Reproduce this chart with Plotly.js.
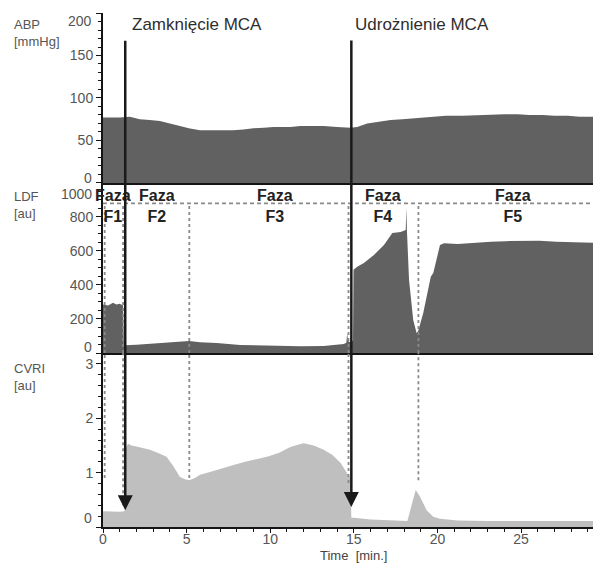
<!DOCTYPE html>
<html>
<head>
<meta charset="utf-8">
<script src="https://cdn.plot.ly/plotly-3.0.1.min.js"></script>
<style>
  html, body { margin: 0; padding: 0; background: #fff; }
  #chart { width: 593px; height: 563px; }
</style>
</head>
<body>
<div id="chart"></div>
<script>
// ---- Data ----
const timeRange = [0, 29.3];

// ABP [mmHg]
const abpTime = [0, 0.5, 1.0, 1.6, 2.2, 2.8, 3.4, 4.0, 4.6, 5.2, 5.8, 6.5, 7.2, 7.8, 8.4, 9.0, 9.6, 10.2, 10.8, 11.2, 11.8, 12.5, 13.2, 14.0, 14.8, 15.2, 15.8, 16.5, 17.2, 17.9, 18.6, 19.6, 20.5, 21.5, 22.5, 23.3, 24.0, 24.8, 25.5, 26.3, 27.0, 27.8, 28.5, 29.3];
const abpValues = [77, 77, 77, 78, 75, 74, 73, 70, 67, 64, 62, 62, 62, 62, 63, 64.5, 65, 66, 66, 66, 67, 67, 67, 66, 65, 66, 70, 72, 74, 75, 76, 78, 79, 79, 80, 81, 81, 81, 80, 80, 79, 79, 78, 78];

// LDF [au]
const ldfTime = [0, 0.3, 0.6, 0.8, 1.0, 1.2, 1.25, 1.3, 2.0, 2.6, 3.5, 4.6, 5.15, 5.8, 6.8, 8.2, 9.8, 11.2, 11.8, 13.2, 14.0, 14.4, 14.55, 14.6, 14.65, 14.75, 14.95, 14.98, 15.2, 15.6, 16.2, 16.8, 17.3, 17.8, 18.1, 18.14, 18.17, 18.2, 18.3, 18.55, 18.75, 18.85, 19.15, 19.6, 19.75, 20.15, 20.4, 21.2, 22.2, 23.2, 24.1, 25.1, 26.1, 27.1, 28.1, 29.3];
const ldfValues = [285, 280, 295, 285, 290, 280, 40, 45, 48, 53, 58, 66, 71, 64, 59, 47, 43, 38, 40, 41, 48, 53, 60, 118, 70, 65, 72, 490, 508, 530, 576, 635, 706, 712, 724, 855, 730, 640, 429, 194, 118, 130, 235, 449, 470, 635, 645, 641, 650, 655, 658, 659, 660, 655, 652, 649];

// CVRI [au]
const cvriTime = [0, 0.5, 1.0, 1.3, 1.35, 1.5, 1.7, 2.0, 2.4, 2.8, 3.3, 3.8, 4.2, 4.6, 4.9, 5.15, 5.5, 5.8, 6.5, 7.2, 7.8, 8.5, 9.2, 9.8, 10.5, 11.2, 11.6, 12.0, 12.6, 13.2, 13.7, 14.2, 14.6, 14.8, 14.85, 15.0, 16.0, 17.0, 18.2, 18.45, 18.7, 18.95, 19.35, 19.75, 20.15, 21.2, 23, 26, 29.3];
const cvriValues = [0.29, 0.28, 0.28, 0.29, 1.45, 1.53, 1.50, 1.48, 1.45, 1.42, 1.36, 1.29, 1.12, 0.92, 0.88, 0.86, 0.90, 0.96, 1.02, 1.09, 1.14, 1.20, 1.25, 1.29, 1.36, 1.47, 1.51, 1.54, 1.50, 1.42, 1.33, 1.18, 0.99, 0.90, 0.17, 0.17, 0.14, 0.12, 0.11, 0.40, 0.68, 0.56, 0.31, 0.19, 0.15, 0.12, 0.11, 0.11, 0.11];

// Phases
const phaseBoundaries = [0.1, 1.2, 5.16, 14.68, 18.86];
const phaseCvriEnds = [0.90, 0.40, 0.90, 0.81, 0.86];
const phaseLevel = 880;
const phaseNames = ['F1', 'F2', 'F3', 'F4', 'F5'];
const phaseLabelTime = [0.62, 3.25, 10.3, 16.75, 24.5];

// Events (arrows)
const eventNames = ['Zamknięcie MCA', 'Udrożnienie MCA'];
const eventTime = [1.33, 14.85];
const eventTipCvri = [0.31, 0.37];
const eventLabelTime = [5.65, 19.1];

// Axis ticks
const abpTicks = [0, 50, 100, 150, 200];
const ldfTicks = [0, 200, 400, 600, 800, 1000];
const cvriTicks = [0, 1, 2, 3];
const timeTicks = [0, 5, 10, 15, 20, 25];

// ---- Figure ----
const FONT = 'Liberation Sans, Arial, Helvetica, sans-serif';
const darkFill = '#616161';
const lightFill = '#bfbfbf';
const tickGray = '#555555';
const axisBlack = '#141414';

const traces = [
  { x: abpTime, y: abpValues, xaxis: 'x3', yaxis: 'y3', type: 'scatter', mode: 'lines',
    fill: 'tozeroy', fillcolor: darkFill, line: { width: 0, color: darkFill }, hoverinfo: 'skip' },
  { x: ldfTime, y: ldfValues, xaxis: 'x2', yaxis: 'y2', type: 'scatter', mode: 'lines',
    fill: 'tozeroy', fillcolor: darkFill, line: { width: 0, color: darkFill }, hoverinfo: 'skip' },
  { x: cvriTime, y: cvriValues, xaxis: 'x', yaxis: 'y', type: 'scatter', mode: 'lines',
    fill: 'tozeroy', fillcolor: lightFill, line: { width: 0, color: lightFill }, hoverinfo: 'skip' }
];

function yAxisBase(range, domain, ticks, minorD) {
  return {
    range: range, domain: domain, anchor: 'x',
    showline: true, linecolor: axisBlack, linewidth: 2,
    ticks: 'outside', ticklen: 5, tickwidth: 1, tickcolor: axisBlack,
    tickvals: ticks,
    ticktext: ticks.map((v, i) => (i === 0 || i === ticks.length - 1) ? '' : String(v)),
    tickfont: { family: FONT, size: 14, color: tickGray },
    minor: { dtick: minorD, ticks: 'outside', ticklen: 3, tickcolor: axisBlack, showgrid: false },
    showgrid: false, zeroline: false, fixedrange: true
  };
}

const yCvri = yAxisBase([0, 3.2], [0, 0.3385], cvriTicks, 0.2);
yCvri.ticktext = cvriTicks.map((v, i) => i === 0 ? '' : String(v));
const yLdf = yAxisBase([0, 1000], [0.3385, 0.6693], ldfTicks, 50);
yLdf.anchor = 'x2';
const yAbp = yAxisBase([0, 200], [0.6693, 1], abpTicks, 10);
yAbp.anchor = 'x3';

const layout = {
  width: 593, height: 563,
  margin: { l: 103, r: 0, t: 13, b: 36, pad: 0 },
  paper_bgcolor: '#ffffff', plot_bgcolor: '#ffffff',
  showlegend: false,
  font: { family: FONT, color: tickGray },
  xaxis: {
    range: timeRange, anchor: 'y', domain: [0, 1],
    showline: true, linecolor: axisBlack, linewidth: 2,
    ticks: 'outside', ticklen: 4, tickcolor: axisBlack,
    tickvals: timeTicks, ticklabelstandoff: -6,
    tickfont: { family: FONT, size: 14, color: tickGray },
    minor: { dtick: 1, ticks: 'outside', ticklen: 3, tickcolor: axisBlack, showgrid: false },
    showgrid: false, zeroline: false, fixedrange: true
  },
  xaxis2: { range: timeRange, matches: 'x', anchor: 'y2', showline: true, linecolor: axisBlack, linewidth: 2,
    ticks: '', showticklabels: false, showgrid: false, zeroline: false },
  xaxis3: { range: timeRange, matches: 'x', anchor: 'y3', showline: true, linecolor: axisBlack, linewidth: 2,
    ticks: '', showticklabels: false, showgrid: false, zeroline: false },
  yaxis: yCvri, yaxis2: yLdf, yaxis3: yAbp,
  shapes: [],
  annotations: []
};

// Horizontal dotted phase level line in LDF panel
layout.shapes.push({ type: 'line', xref: 'x2', yref: 'y2', x0: timeRange[0], x1: timeRange[1],
  y0: phaseLevel, y1: phaseLevel, line: { color: '#8a8a8a', width: 1.6, dash: '4px,3px' }, layer: 'above' });

// Vertical dotted phase boundaries
phaseBoundaries.forEach((t, i) => {
  layout.shapes.push({ type: 'line', xref: 'x2', yref: 'y2', x0: t, x1: t, y0: 0, y1: phaseLevel,
    line: { color: '#8a8a8a', width: 1.8, dash: '3px,3px' }, layer: 'above' });
  layout.shapes.push({ type: 'line', xref: 'x', yref: 'y', x0: t, x1: t, y0: phaseCvriEnds[i], y1: 3.2,
    line: { color: '#8a8a8a', width: 1.8, dash: '3px,3px' }, layer: 'above' });
});

// Phase labels
phaseNames.forEach((n, i) => {
  layout.annotations.push({ xref: 'x2', yref: 'y2', x: phaseLabelTime[i], y: 866,
    text: '<b>Faza<br>' + n + '</b>', showarrow: false, xanchor: 'center', yanchor: 'middle',
    font: { family: FONT, size: 16, color: '#222222' }, align: 'center' });
});

// Event arrows and labels
eventTime.forEach((t, i) => {
  layout.annotations.push({ xref: 'x', yref: 'y', x: t, y: eventTipCvri[i], text: '',
    showarrow: true, axref: 'pixel', ayref: 'pixel', ax: 0, ay: -(510 - 39) + (i === 1 ? 3 : 0),
    arrowhead: 2, arrowsize: 1.2, arrowwidth: 2.5, arrowcolor: '#1a1a1a', standoff: 0 });
  layout.annotations.push({ xref: 'x3', yref: 'y3', x: eventLabelTime[i], y: 186,
    text: eventNames[i], showarrow: false, xanchor: 'center', yanchor: 'middle',
    font: { family: FONT, size: 17, color: '#2e2e2e' } });
});

// Edge tick labels (shifted inward as in the original)
const edgeLabels = [
  { yref: 'y3', y: 0, text: '0', shift: 5 },
  { yref: 'y3', y: 200, text: '200', shift: -8 },
  { yref: 'y2', y: 0, text: '0', shift: 6 },
  { yref: 'y2', y: 1000, text: '1000', shift: -11 },
  { yref: 'y', y: 0, text: '0', shift: 9 }
];
edgeLabels.forEach(e => {
  layout.annotations.push({ xref: 'paper', yref: e.yref, x: 0, y: e.y, xshift: -9, yshift: e.shift,
    text: e.text, showarrow: false, xanchor: 'right', yanchor: 'middle',
    font: { family: FONT, size: 14, color: tickGray } });
});

// Panel titles
const panelTitles = [
  { yref: 'y3', y: 176, text: 'ABP<br>[mmHg]' },
  { yref: 'y2', y: 870, text: 'LDF<br>[au]' },
  { yref: 'y', y: 2.76, text: 'CVRI<br>[au]' }
];
panelTitles.forEach(p => {
  layout.annotations.push({ xref: 'paper', yref: p.yref, x: -0.185, y: p.y, text: p.text,
    showarrow: false, xanchor: 'left', yanchor: 'middle', align: 'left',
    font: { family: FONT, size: 13, color: '#555555' } });
});

// X axis title
layout.annotations.push({ xref: 'x', yref: 'paper', x: 15, y: 0, yshift: -28,
  text: 'Time\u00a0\u00a0[min.]', showarrow: false, xanchor: 'center', yanchor: 'middle',
  font: { family: FONT, size: 13, color: '#444444' } });

Plotly.newPlot('chart', traces, layout, { staticPlot: true, displayModeBar: false });
</script>
</body>
</html>
